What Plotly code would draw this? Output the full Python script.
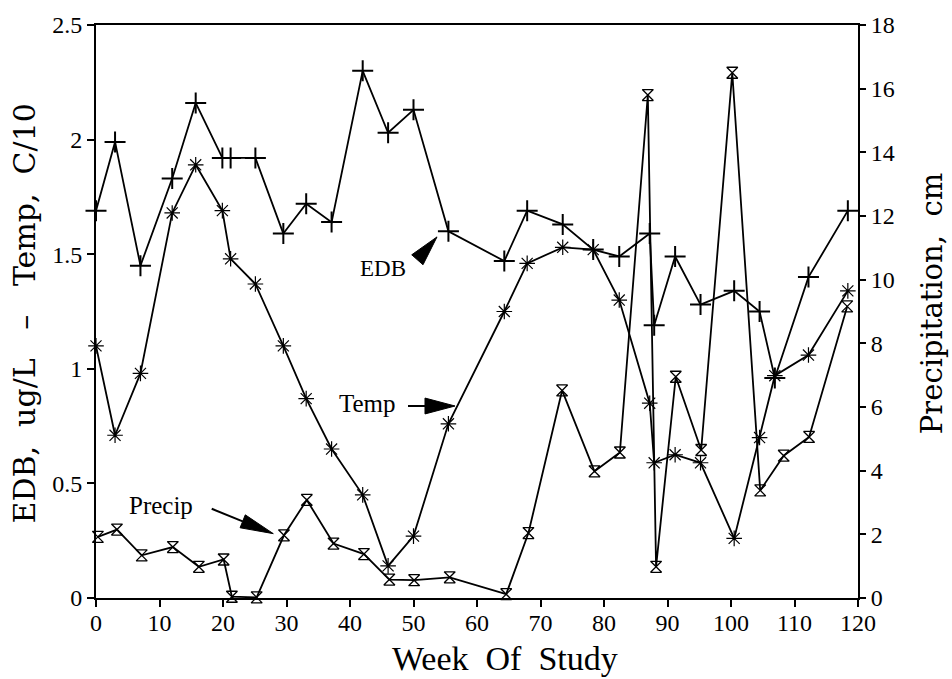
import plotly.graph_objects as go

# ---- data ----
weeks = [0, 3, 7, 12, 15.7, 19.9, 21.2, 25.1, 29.5, 33.1, 37.1, 42, 46, 50, 55.5,
         64.3, 67.9, 73.5, 78.3, 82.4, 87.2, 87.9, 91.2, 95.2, 100.5, 104.5, 106.9,
         112.2, 118.4]
edb = [1.69, 1.99, 1.45, 1.83, 2.16, 1.92, 1.92, 1.92, 1.59, 1.72, 1.64, 2.30, 2.03,
       2.13, 1.60, 1.47, 1.69, 1.63, 1.52, 1.49, 1.59, 1.19, 1.49, 1.28, 1.34, 1.25,
       0.96, 1.40, 1.69]
temp = [1.10, 0.71, 0.98, 1.68, 1.89, 1.69, 1.48, 1.37, 1.10, 0.87, 0.65, 0.45, 0.14,
        0.27, 0.76, 1.25, 1.46, 1.53, 1.52, 1.30, 0.85, 0.59, 0.625, 0.59, 0.26, 0.70,
        0.97, 1.06, 1.34]
precip_weeks = [0.3, 3.3, 7.2, 12.1, 16.2, 20.1, 21.4, 25.3, 29.6, 33.2, 37.4, 42.2,
                46.2, 50.1, 55.7, 64.6, 68.1, 73.4, 78.5, 82.5, 86.9, 88.2, 91.3, 95.3,
                100.2, 104.6, 108.3, 112.3, 118.3]
precip = [1.92, 2.15, 1.34, 1.60, 0.98, 1.21, 0.04, 0.02, 1.97, 3.08, 1.71, 1.38, 0.58,
          0.56, 0.65, 0.12, 2.04, 6.52, 3.98, 4.57, 15.8, 0.98, 6.95, 4.65, 16.5, 3.38,
          4.47, 5.06, 9.16]

x_ticks = [0, 10, 20, 30, 40, 50, 60, 70, 80, 90, 100, 110, 120]
y_ticks = [0, 0.5, 1, 1.5, 2, 2.5]
y2_ticks = [0, 2, 4, 6, 8, 10, 12, 14, 16, 18]

BLACK = "#000000"
TICKFONT = dict(family="Liberation Serif", size=24, color=BLACK)
TITLEFONT = "DejaVu Serif"

fig = go.Figure()

fig.add_trace(go.Scatter(
    x=weeks, y=edb, mode="lines+markers", name="EDB", cliponaxis=False,
    line=dict(color=BLACK, width=1.8),
    marker=dict(symbol="cross-thin-open", size=15, color=BLACK,
                line=dict(color=BLACK, width=2)),
))
fig.add_trace(go.Scatter(
    x=weeks, y=temp, mode="lines+markers", name="Temp", cliponaxis=False,
    line=dict(color=BLACK, width=1.8),
    marker=dict(symbol="asterisk-open", size=13, color=BLACK,
                line=dict(color=BLACK, width=1.2)),
))
fig.add_trace(go.Scatter(
    x=precip_weeks, y=precip, mode="lines+markers", name="Precip", yaxis="y2",
    cliponaxis=False,
    line=dict(color=BLACK, width=1.8),
    marker=dict(symbol="hourglass-open", size=11, color=BLACK,
                line=dict(color=BLACK, width=1.3)),
))

# arrows (filled triangles + shafts), in data units of the left axis
shapes = [
    # EDB arrowhead only
    dict(type="path", xref="x", yref="y",
         path="M 53.70,1.5755 L 49.72,1.4974 L 51.50,1.4540 Z",
         fillcolor=BLACK, line=dict(color=BLACK, width=1)),
    # Temp arrow
    dict(type="line", xref="x", yref="y", x0=49.13, y0=0.8377, x1=52.0, y1=0.8377,
         line=dict(color=BLACK, width=2)),
    dict(type="path", xref="x", yref="y",
         path="M 56.54,0.8377 L 51.81,0.8724 L 51.81,0.8030 Z",
         fillcolor=BLACK, line=dict(color=BLACK, width=1)),
    # Precip arrow
    dict(type="line", xref="x", yref="y", x0=18.22, y0=0.3893, x1=23.10, y1=0.3346,
         line=dict(color=BLACK, width=2)),
    dict(type="path", xref="x", yref="y",
         path="M 27.92,0.2808 L 22.69,0.3064 L 23.51,0.3628 Z",
         fillcolor=BLACK, line=dict(color=BLACK, width=1)),
]

annotations = [
    dict(text="EDB", x=45.2, y=1.4366, xref="x", yref="y", showarrow=False,
         font=dict(family="Liberation Serif", size=23, color=BLACK)),
    dict(text="Temp", x=42.7, y=0.8507, xref="x", yref="y", showarrow=False,
         font=dict(family="Liberation Serif", size=25, color=BLACK)),
    dict(text="Precip", x=10.3, y=0.4036, xref="x", yref="y", showarrow=False,
         font=dict(family="Liberation Serif", size=25, color=BLACK)),
    # axis titles
    dict(text="Week  Of  Study", x=0.537, y=-0.1406, xref="paper", yref="paper",
         showarrow=False, xanchor="center", yanchor="bottom",
         font=dict(family="Liberation Serif", size=34, color=BLACK)),
    dict(text="EDB,  ug/L   \u2013   Temp,  C/10", x=-0.0932, y=0.4965, xref="paper",
         yref="paper", showarrow=False, textangle=-90, xanchor="center",
         yanchor="middle", font=dict(family=TITLEFONT, size=30, color=BLACK)),
    dict(text="Precipitation,  cm", x=1.098, y=0.514, xref="paper", yref="paper",
         showarrow=False, textangle=-90, xanchor="center", yanchor="middle",
         font=dict(family=TITLEFONT, size=29, color=BLACK)),
]

fig.update_layout(
    width=952, height=679,
    margin=dict(l=96, r=94, t=22, b=81),
    paper_bgcolor="white", plot_bgcolor="white",
    showlegend=False,
    shapes=shapes,
    annotations=annotations,
    xaxis=dict(range=[0, 120], tickvals=x_ticks, ticks="outside", ticklen=7,
               tickwidth=1.5, tickcolor=BLACK, showline=True, linecolor=BLACK,
               linewidth=2, mirror=True, showgrid=False, zeroline=False,
               tickfont=TICKFONT, ticklabelstandoff=-5),
    yaxis=dict(range=[0, 2.5], tickvals=y_ticks, ticks="outside", ticklen=7,
               tickwidth=1.5, tickcolor=BLACK, showline=True, linecolor=BLACK,
               linewidth=2, showgrid=False, zeroline=False, tickfont=TICKFONT),
    yaxis2=dict(range=[0, 18], tickvals=y2_ticks, ticks="outside", ticklen=6,
                tickwidth=1.5, tickcolor=BLACK, showline=True, linecolor=BLACK,
                linewidth=2, showgrid=False, zeroline=False, tickfont=TICKFONT,
                overlaying="y", side="right"),
)

fig.write_html(
    "out.html",
    config={"displayModeBar": False},
    post_script="document.body.style.margin='0px';document.body.style.overflow='hidden';",
)
